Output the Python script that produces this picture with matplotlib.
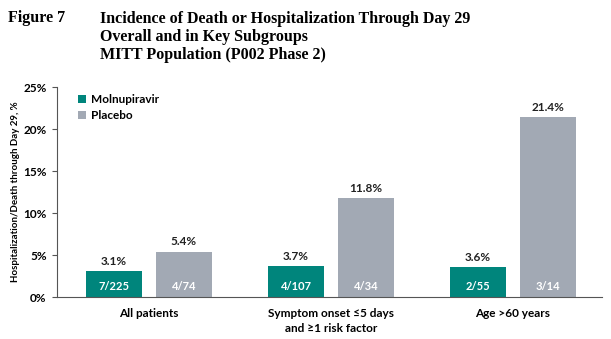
import matplotlib
matplotlib.use("Agg")
import matplotlib.pyplot as plt
import numpy as np

categories = ["All patients", "Symptom onset \u22645 days\nand \u22651 risk factor", "Age >60 years"]
molnupiravir = [3.1, 3.7, 3.6]
placebo = [5.4, 11.8, 21.4]
molnupiravir_counts = ["7/225", "4/107", "2/55"]
placebo_counts = ["4/74", "4/34", "3/14"]
yticks = [0, 5, 10, 15, 20, 25]

TEAL = "#00857C"
GRAY = "#A2A9B4"
SANS = ["Lato", "DejaVu Sans"]
SERIF = ["Liberation Serif", "DejaVu Serif"]

fig = plt.figure(figsize=(6.11, 3.39), dpi=100)
W, H = 611, 339
ax = fig.add_axes([57 / W, 1 - 297 / H, (602 - 57) / W, (297 - 87) / H])

x = np.arange(len(categories))
width = 0.308
off = 0.192
b1 = ax.bar(x - off, molnupiravir, width, color=TEAL, label="Molnupiravir")
b2 = ax.bar(x + off, placebo, width, color=GRAY, label="Placebo")

for bars, vals, counts in ((b1, molnupiravir, molnupiravir_counts), (b2, placebo, placebo_counts)):
    for rect, v, c in zip(bars, vals, counts):
        cx = rect.get_x() + rect.get_width() / 2
        ax.annotate(f"{v:.1f}%", (cx, v), xytext=(0, 3), textcoords="offset points",
                    ha="center", va="bottom", fontsize=8.5, fontweight="bold",
                    family=SANS, color="#222222")
        ax.annotate(c, (cx, 0), xytext=(0, 7.5), textcoords="offset points",
                    ha="center", va="center", fontsize=8, fontweight="bold",
                    family=SANS, color="white")

ax.set_xlim(-0.505, 2.49)
ax.set_ylim(0, 25)
ax.set_yticks(yticks)
ax.set_yticklabels([f"{t}%" for t in yticks], fontsize=8.5, fontweight="bold", family=SANS)
ax.set_xticks(x)
ax.set_xticklabels(categories, fontsize=8.5, fontweight="bold", family=SANS, linespacing=1.45)
ax.tick_params(axis="y", length=3.5, width=0.8, color="#555555", pad=4)
ax.tick_params(axis="x", length=0, pad=8)
for s in ("top", "right"):
    ax.spines[s].set_visible(False)
for s in ("bottom", "left"):
    ax.spines[s].set_color("#555555")
    ax.spines[s].set_linewidth(0.8)

ax.set_ylabel("Hospitalization/Death through Day 29, %", fontsize=7,
              fontweight="bold", family=SANS, labelpad=2.5)

leg = ax.legend(loc="upper left", bbox_to_anchor=(0.025, 1.0), frameon=False,
                prop={"family": SANS, "weight": "bold", "size": 8.5},
                handlelength=0.7, handleheight=0.7, handletextpad=0.4,
                labelspacing=0.45, borderaxespad=0.2)

fig.text(8 / W, 1 - 18 / H, "Figure 7", fontsize=11.5, fontweight="bold",
         family=SERIF, va="center", ha="left")
fig.text(100 / W, 1 - 37 / H,
         "Incidence of Death or Hospitalization Through Day 29\nOverall and in Key Subgroups\nMITT Population (P002 Phase 2)",
         fontsize=11.5, fontweight="bold", family=SERIF, va="center", ha="left",
         linespacing=1.15)

fig.savefig("out.png", dpi=100, facecolor="white")
